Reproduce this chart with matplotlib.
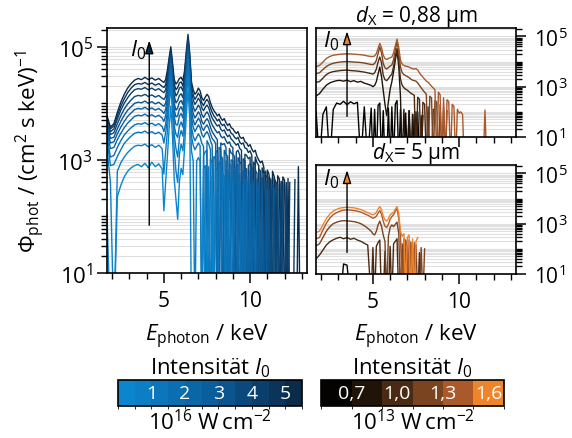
import numpy as np
import matplotlib.pyplot as plt
from matplotlib.colors import ListedColormap, BoundaryNorm, LinearSegmentedColormap
from matplotlib.cm import ScalarMappable
from matplotlib.ticker import LogLocator, MultipleLocator, FixedLocator, NullFormatter

plt.rcParams['font.family'] = ['Open Sans', 'DejaVu Sans']
plt.rcParams['font.size'] = 16
plt.rcParams['mathtext.fontset'] = 'custom'
plt.rcParams['mathtext.rm'] = 'Open Sans'
plt.rcParams['mathtext.it'] = 'Open Sans:italic'
plt.rcParams['mathtext.bf'] = 'Open Sans:bold'

# photon energy bins (keV)
energy = [1.7, 1.9, 2.1, 2.3, 2.5, 2.7, 2.9, 3.1, 3.3, 3.5, 3.7, 3.9, 4.1, 4.3, 4.5, 4.7, 4.9,
          5.0, 5.1, 5.2, 5.3, 5.4, 5.5, 5.6, 5.7, 5.8, 5.9,
          6.0, 6.1, 6.2, 6.3, 6.4, 6.5, 6.6, 6.7, 6.8, 6.9,
          7.0, 7.1, 7.2, 7.3, 7.4, 7.5, 7.6, 7.7, 7.8, 7.9,
          8.0, 8.1, 8.2, 8.3, 8.4, 8.5, 8.6, 8.7, 8.8, 8.9,
          9.0, 9.1, 9.2, 9.3, 9.4, 9.5, 9.6, 9.7, 9.8, 9.9,
          10.0, 10.1, 10.2, 10.3, 10.4, 10.5, 10.6, 10.7, 10.8, 10.9,
          11.0, 11.1, 11.2, 11.3, 11.4, 11.5, 11.6, 11.7, 11.8, 11.9,
          12.0, 12.1, 12.2, 12.3, 12.4, 12.5, 12.6, 12.7, 12.8, 12.9,
          13.0]

# log10 of photon flux, 0 = empty bin
# --- high intensity laser, 1..5.5 x 1e16 W/cm2 (lowest to highest)
lg_blue_1 = [2.05, 0, 0, 2.35, 2.55, 2.70, 2.80, 2.86, 2.90, 2.92, 2.88, 2.94, 2.86, 2.96, 2.88, 2.93, 2.84,
             2.10, 2.60, 3.05, 3.55, 3.95, 3.40, 2.65, 2.30, 1.95, 2.62,
             2.85, 2.74, 3.22, 3.80, 4.25, 3.72, 0, 0, 0, 0,
             0, 0, 0, 2.45, 0, 0, 0, 0, 0, 2.40]
lg_blue_2 = [3.20, 2.60, 0, 2.80, 2.95, 3.05, 3.13, 3.19, 3.24, 3.26, 3.25, 3.28, 3.23, 3.27, 3.22, 3.26, 3.20,
             2.75, 3.15, 3.50, 3.94, 4.30, 3.84, 3.18, 2.80, 2.60, 3.10,
             3.28, 3.16, 3.54, 4.06, 4.50, 4.00, 3.16, 2.98, 0, 2.98,
             3.04, 2.98, 0, 2.84, 2.90, 0, 2.88, 0, 2.72, 0,
             2.64]
lg_blue_3 = [3.35, 2.90, 2.92, 3.06, 3.18, 3.29, 3.36, 3.42, 3.47, 3.49, 3.48, 3.51, 3.47, 3.50, 3.46, 3.49, 3.44,
             3.30, 3.48, 3.72, 4.12, 4.46, 4.04, 3.44, 3.20, 3.05, 3.40,
             3.52, 3.42, 3.74, 4.24, 4.68, 4.20, 3.42, 3.26, 3.18, 3.24,
             3.30, 3.25, 0, 3.08, 3.14, 3.18, 0, 3.02, 2.94, 0,
             2.86, 2.82, 0, 0, 2.76, 2.72, 0, 2.66, 0, 0,
             2.60]
lg_blue_4 = [3.42, 3.05, 3.08, 3.22, 3.34, 3.44, 3.51, 3.57, 3.62, 3.64, 3.63, 3.66, 3.62, 3.65, 3.61, 3.64, 3.59,
             3.50, 3.63, 3.86, 4.24, 4.56, 4.16, 3.60, 3.45, 3.40, 3.60,
             3.67, 3.58, 3.88, 4.36, 4.78, 4.32, 3.58, 3.42, 3.34, 3.40,
             3.46, 3.41, 3.29, 3.24, 0, 3.34, 3.28, 3.18, 0, 3.06,
             3.01, 0, 2.96, 2.92, 0, 0, 2.84, 2.80, 0, 2.74,
             2.72, 0, 0, 2.66, 2.62, 0, 2.58, 0, 2.52]
lg_blue_5 = [3.50, 3.20, 3.22, 3.36, 3.47, 3.57, 3.65, 3.71, 3.77, 3.79, 3.78, 3.81, 3.77, 3.80, 3.76, 3.79, 3.74,
             3.68, 3.78, 4.00, 4.36, 4.66, 4.28, 3.76, 3.62, 3.62, 3.78,
             3.82, 3.74, 4.02, 4.48, 4.88, 4.44, 3.74, 3.58, 3.50, 3.56,
             3.62, 3.57, 3.45, 3.40, 3.46, 3.50, 3.44, 3.34, 3.26, 0,
             3.17, 3.13, 0, 3.07, 3.03, 0, 2.98, 0, 2.94, 2.88,
             0, 2.84, 2.80, 0, 2.76, 0, 0, 2.66, 2.62, 0,
             2.58, 0, 2.54, 0, 2.50]
lg_blue_6 = [3.55, 3.30, 3.32, 3.46, 3.58, 3.68, 3.77, 3.83, 3.89, 3.91, 3.90, 3.93, 3.89, 3.92, 3.88, 3.91, 3.86,
             3.82, 3.89, 4.10, 4.44, 4.72, 4.36, 3.88, 3.76, 3.78, 3.90,
             3.94, 3.86, 4.12, 4.56, 4.94, 4.52, 3.86, 3.70, 3.62, 3.68,
             3.74, 3.69, 3.57, 3.52, 3.58, 3.62, 3.56, 3.46, 3.38, 3.34,
             3.29, 0, 3.22, 3.19, 0, 3.17, 3.10, 3.06, 0, 3.00,
             2.98, 0, 2.90, 2.92, 0, 0, 2.80, 2.76, 0, 2.70,
             0, 2.66, 2.62, 0, 0, 2.56, 0, 2.50, 0, 0,
             2.46]
lg_blue_7 = [3.60, 3.38, 3.40, 3.55, 3.68, 3.79, 3.88, 3.94, 4.00, 4.02, 4.01, 4.04, 4.00, 4.03, 3.99, 4.02, 3.97,
             3.95, 4.00, 4.20, 4.52, 4.78, 4.44, 4.00, 3.88, 3.92, 4.02,
             4.05, 3.98, 4.22, 4.64, 5.00, 4.60, 3.97, 3.82, 3.74, 3.79,
             3.85, 3.80, 3.68, 3.63, 3.69, 3.73, 3.68, 3.58, 3.50, 3.45,
             3.40, 3.36, 0, 3.30, 3.27, 3.29, 3.22, 0, 3.20, 3.12,
             3.10, 3.06, 0, 3.04, 2.96, 2.92, 0, 2.86, 2.84, 0,
             2.80, 2.74, 0, 0, 2.66, 2.62, 0, 2.58, 0, 2.52,
             0, 2.50, 0, 0, 2.46, 2.44]
lg_blue_8 = [3.65, 3.45, 3.48, 3.64, 3.78, 3.90, 3.99, 4.06, 4.12, 4.14, 4.13, 4.16, 4.12, 4.15, 4.11, 4.14, 4.09,
             4.07, 4.12, 4.32, 4.60, 4.84, 4.52, 4.13, 4.01, 4.05, 4.14,
             4.17, 4.10, 4.32, 4.72, 5.06, 4.68, 4.09, 3.94, 3.86, 3.91,
             3.97, 3.92, 3.80, 3.75, 3.81, 3.85, 3.80, 3.70, 3.62, 3.57,
             3.52, 3.48, 3.50, 3.42, 3.39, 3.41, 3.34, 3.29, 3.32, 3.24,
             3.22, 0, 3.14, 3.17, 3.08, 0, 3.02, 2.98, 0, 2.90,
             2.93, 2.86, 0, 2.82, 2.76, 0, 2.70, 2.66, 0, 2.62,
             2.60, 0, 0, 2.56, 2.52, 0, 2.50, 0, 0, 2.48,
             2.50]
lg_blue_9 = [3.70, 3.50, 3.55, 3.72, 3.88, 4.00, 4.10, 4.18, 4.24, 4.26, 4.25, 4.28, 4.24, 4.27, 4.23, 4.26, 4.21,
             4.19, 4.24, 4.42, 4.68, 4.90, 4.60, 4.25, 4.13, 4.18, 4.27,
             4.29, 4.22, 4.42, 4.80, 5.12, 4.76, 4.21, 4.06, 3.98, 4.03,
             4.09, 4.04, 3.92, 3.87, 3.93, 3.97, 3.92, 3.82, 3.74, 3.69,
             3.64, 3.60, 3.62, 3.54, 3.51, 3.53, 3.46, 3.41, 3.44, 3.37,
             3.34, 3.30, 3.26, 3.29, 3.20, 3.17, 0, 3.10, 3.08, 3.02,
             3.05, 0, 2.96, 2.92, 0, 2.84, 2.80, 0, 2.72, 2.74,
             2.68, 0, 2.66, 0, 0, 2.60, 2.56, 0, 2.58, 0,
             0, 2.55, 0, 2.60]
lg_blue_10 = [3.74, 3.55, 3.60, 3.78, 3.95, 4.08, 4.19, 4.27, 4.33, 4.35, 4.34, 4.37, 4.33, 4.36, 4.32, 4.35, 4.30,
              4.28, 4.33, 4.50, 4.74, 4.95, 4.66, 4.34, 4.24, 4.28, 4.36,
              4.38, 4.31, 4.50, 4.86, 5.17, 4.82, 4.30, 4.15, 4.07, 4.12,
              4.18, 4.13, 4.01, 3.96, 4.03, 4.07, 4.02, 3.92, 3.84, 3.78,
              3.74, 3.69, 3.72, 3.64, 3.61, 3.63, 3.56, 3.52, 3.54, 3.47,
              3.45, 3.40, 3.37, 3.40, 3.31, 3.28, 3.30, 3.21, 3.20, 3.13,
              3.16, 3.08, 0, 3.05, 2.95, 2.90, 0, 2.86, 2.76, 2.80,
              0, 2.70, 2.64, 0, 2.68, 2.60, 0, 0, 2.62, 2.58,
              0, 2.60, 0, 0, 0, 0, 2.65]
lg_blue_11 = [3.78, 3.58, 3.64, 3.84, 4.02, 4.16, 4.27, 4.35, 4.41, 4.44, 4.42, 4.46, 4.42, 4.45, 4.41, 4.44, 4.39,
              4.37, 4.42, 4.58, 4.80, 5.00, 4.72, 4.42, 4.34, 4.38, 4.44,
              4.46, 4.40, 4.58, 4.92, 5.22, 4.88, 4.38, 4.24, 4.16, 4.20,
              4.27, 4.22, 4.10, 4.05, 4.11, 4.16, 4.12, 4.01, 3.93, 3.87,
              3.83, 3.78, 3.81, 3.74, 3.70, 3.73, 3.66, 3.61, 3.64, 3.57,
              3.55, 3.50, 3.47, 3.50, 3.41, 3.38, 3.40, 3.32, 3.30, 3.24,
              3.27, 3.19, 3.14, 3.17, 3.06, 3.00, 2.95, 2.98, 2.86, 0,
              2.82, 2.74, 0, 2.80, 2.70, 0, 2.72, 2.66, 0, 2.70,
              2.64, 0, 2.67, 0, 0, 0, 0, 0, 2.88, 0,
              0]

# --- d_X = 0.88 um, 0.6 .. 1.4 x 1e13 W/cm2
lg_thin_06 = [2.05, 0, 1.90, 2.20, 0, 2.10, 2.35, 2.30, 2.42, 2.28, 2.40, 2.32, 2.38, 0, 2.20, 0, 2.15,
              0, 2.10, 0, 2.25, 2.35, 0, 2.05, 0, 0, 2.15,
              0, 2.20, 0, 2.30, 2.45, 0, 2.10, 0, 0, 1.95,
              0, 2.05, 0, 0, 1.90, 0, 2.00, 0, 0, 1.85]
lg_thin_08 = [2.63, 2.72, 2.90, 3.06, 3.15, 3.20, 3.24, 3.25, 3.22, 3.26, 3.20, 3.24, 3.18, 3.21, 3.14, 3.10, 3.05,
              3.00, 3.05, 3.20, 3.50, 3.78, 3.40, 2.85, 2.30, 1.85, 2.40,
              2.90, 3.20, 3.60, 4.05, 4.45, 3.80, 2.60, 0, 2.10, 0,
              0, 2.05, 0, 1.90, 0, 2.00, 0, 0, 1.85, 0]
lg_thin_10 = [3.18, 3.20, 3.34, 3.48, 3.56, 3.60, 3.62, 3.64, 3.65, 3.66, 3.64, 3.63, 3.62, 3.60, 3.58, 3.55, 3.52,
              3.50, 3.55, 3.70, 3.98, 4.18, 3.95, 3.45, 3.28, 3.24, 3.32,
              3.42, 3.50, 3.80, 4.20, 4.52, 4.05, 3.30, 3.05, 2.96, 2.90,
              2.86, 2.80, 2.74, 2.70, 2.66, 0, 2.58, 2.50, 0, 2.38,
              2.30, 0, 2.20, 0, 0, 2.10]
lg_thin_12 = [3.52, 3.55, 3.68, 3.80, 3.88, 3.93, 3.96, 3.98, 3.99, 4.00, 3.99, 3.98, 3.97, 3.96, 3.94, 3.91, 3.88,
              3.88, 3.92, 4.05, 4.32, 4.58, 4.35, 3.92, 3.75, 3.70, 3.76,
              3.82, 3.86, 4.08, 4.45, 4.80, 4.40, 3.78, 3.55, 3.48, 3.44,
              3.40, 3.36, 3.30, 3.26, 3.24, 3.22, 3.15, 3.05, 2.96, 2.86,
              2.78, 2.70, 0, 2.62, 2.55, 0, 2.45, 2.38, 0, 2.28,
              0, 2.18, 0, 2.05]
lg_thin_14 = [3.80, 3.84, 3.98, 4.12, 4.20, 4.25, 4.27, 4.29, 4.30, 4.31, 4.30, 4.29, 4.28, 4.27, 4.25, 4.22, 4.20,
              4.20, 4.22, 4.32, 4.52, 4.72, 4.55, 4.25, 4.12, 4.08, 4.12,
              4.15, 4.18, 4.35, 4.62, 4.89, 4.55, 4.05, 3.90, 3.84, 3.82,
              3.80, 3.78, 3.74, 3.72, 3.70, 3.72, 3.66, 3.55, 3.46, 3.38,
              3.30, 3.22, 3.18, 3.10, 3.02, 2.95, 2.88, 0, 2.78, 2.68,
              0, 2.56, 0, 2.48, 2.40, 0, 2.30, 2.22, 0, 2.10,
              1.95, 2.00, 1.90, 0, 0, 0, 0, 0, 0, 0,
              0, 0, 0, 0, 0, 2.07, 0]

# --- d_X = 5 um, 0.6 .. 1.6 x 1e13 W/cm2
lg_thick_06 = [0, 0, 0, 0, 0, 0, 0, 0, 1.40, 1.35, 0, 0, 0, 0, 0, 0, 0]
lg_thick_10 = [1.60, 1.75, 1.95, 2.15, 2.28, 2.36, 2.42, 2.46, 2.40, 2.45, 2.38, 2.42, 2.35, 2.30, 2.22, 2.15, 0,
               2.05, 0, 2.10, 2.25, 2.35, 0, 0, 1.90, 0, 0,
               2.10, 0, 2.20, 2.30, 2.40, 0, 0, 1.95, 0, 0,
               2.00, 0, 0, 1.90, 0, 0, 0, 1.85, 0, 0]
lg_thick_12 = [2.12, 2.20, 2.45, 2.70, 2.88, 3.00, 3.06, 3.10, 3.12, 3.11, 3.10, 3.08, 3.05, 3.00, 2.92, 2.82, 2.70,
               2.60, 2.55, 2.70, 2.95, 3.10, 2.90, 2.55, 2.30, 0, 2.50,
               2.85, 2.95, 2.88, 2.98, 3.06, 2.60, 0, 2.20, 0, 2.35,
               2.10, 0, 2.25, 0, 2.00, 2.15, 0, 0, 2.05, 0,
               2.00]
lg_thick_14 = [2.40, 2.45, 2.75, 3.02, 3.22, 3.36, 3.44, 3.50, 3.54, 3.55, 3.54, 3.52, 3.50, 3.46, 3.40, 3.34, 3.26,
               3.22, 3.24, 3.30, 3.42, 3.52, 3.38, 3.10, 2.90, 2.85, 2.98,
               3.18, 3.28, 3.36, 3.50, 3.60, 3.20, 2.50, 0, 2.40, 2.30,
               0, 2.35, 2.20, 0, 2.25, 0]
lg_thick_16 = [2.65, 2.70, 2.95, 3.20, 3.38, 3.50, 3.57, 3.62, 3.64, 3.65, 3.64, 3.63, 3.60, 3.56, 3.50, 3.44, 3.38,
               3.36, 3.38, 3.45, 3.58, 3.68, 3.55, 3.30, 3.15, 3.10, 3.20,
               3.35, 3.40, 3.45, 3.58, 3.68, 3.40, 2.70, 2.50, 2.60, 0,
               2.45, 2.55, 0, 2.40, 0, 2.30, 2.45]

blue_series = [lg_blue_1, lg_blue_2, lg_blue_3, lg_blue_4, lg_blue_5, lg_blue_6,
               lg_blue_7, lg_blue_8, lg_blue_9, lg_blue_10, lg_blue_11]
thin_series = [(lg_thin_06, 0), (lg_thin_08, 1), (lg_thin_10, 2), (lg_thin_12, 3), (lg_thin_14, 4)]
thick_series = [(lg_thick_06, 0), (lg_thick_10, 2), (lg_thick_12, 3), (lg_thick_14, 4), (lg_thick_16, 5)]

blue_bounds = [0, 0.5, 1, 1.5, 2, 2.5, 3, 3.5, 4, 4.5, 5, 5.5]
blue_ticks = [1, 2, 3, 4, 5]
brown_bounds = [0.5, 0.7, 0.9, 1.1, 1.3, 1.5, 1.7]
brown_ticks = [0.7, 1.0, 1.3, 1.6]
brown_labels = ['0,7', '1,0', '1,3', '1,6']

blue_map = LinearSegmentedColormap.from_list('blues', ['#0b86ce', '#0b5e9e', '#0a2b4a'])
blue_colors = [blue_map(i / 10) for i in range(11)]
brown_colors = ['#040302', '#201409', '#4a2a12', '#7a4421', '#aa592b', '#f0842a']

W, H = 572, 439
fig = plt.figure(figsize=(W / 100, H / 100), dpi=100)


def box(x0, y0, x1, y1):
    return [x0 / W, 1 - y1 / H, (x1 - x0) / W, (y1 - y0) / H]


ax_l = fig.add_axes(box(107, 29, 307, 274))
ax_t = fig.add_axes(box(316, 29, 516, 138))
ax_b = fig.add_axes(box(316, 166, 516, 275))


def style(ax, right=False, xlabels=True):
    ax.set_yscale('log')
    ax.set_xlim(1.7, 13.3)
    ax.set_ylim(10, 2.15e5)
    ax.yaxis.set_major_locator(FixedLocator([1e1, 1e3, 1e5]))
    ax.yaxis.set_minor_locator(LogLocator(base=10, subs=np.arange(1, 10), numticks=20))
    ax.yaxis.set_minor_formatter(NullFormatter())
    ax.xaxis.set_major_locator(MultipleLocator(5))
    ax.xaxis.set_minor_locator(MultipleLocator(1))
    ax.grid(True, axis='y', which='both', color='#e0e0e0', lw=0.8)
    ax.set_axisbelow(True)
    ax.tick_params(which='major', length=7, width=1.1)
    ax.tick_params(which='minor', length=4.5, width=1.0)
    ax.tick_params(axis='x', pad=5, labelsize=15)
    if right:
        ax.yaxis.tick_right()
        ax.tick_params(axis='y', pad=6, labelsize=15)
    else:
        ax.tick_params(axis='y', pad=3, labelsize=16)
    if not xlabels:
        ax.tick_params(axis='x', labelbottom=False)
    for s in ax.spines.values():
        s.set_linewidth(1.2)


style(ax_l)
style(ax_t, right=True, xlabels=False)
style(ax_b, right=True)

# left: spectra for the high intensities, lightest drawn last
for k in range(10, -1, -1):
    v = blue_series[k]
    ax_l.plot(energy[:len(v)], 10.0 ** np.array(v), color=blue_colors[k], lw=1.0)

for v, c in thin_series:
    ax_t.plot(energy[:len(v)], 10.0 ** np.array(v), color=brown_colors[c], lw=1.0)
for v, c in thick_series:
    ax_b.plot(energy[:len(v)], 10.0 ** np.array(v), color=brown_colors[c], lw=1.0)


# intensity arrows
def arrow(ax, x, y0, y1, head):
    ax.annotate('', xy=(x, y1), xytext=(x, y0),
                arrowprops=dict(arrowstyle='-|>,head_length=0.5,head_width=0.16',
                                lw=1.0, edgecolor='black', facecolor=head,
                                shrinkA=0, shrinkB=0))


arrow(ax_l, 4.15, 70, 1.3e5, blue_colors[10])
ax_l.text(3.5, 9.0e4, '$I_0$', ha='center', va='center')
arrow(ax_t, 3.5, 66, 1.6e5, brown_colors[5])
ax_t.text(2.55, 7.0e4, '$I_0$', ha='center', va='center')
arrow(ax_b, 3.5, 72, 1.35e5, brown_colors[5])
ax_b.text(2.55, 6.3e4, '$I_0$', ha='center', va='center')

ax_t.set_title(r'$d_\mathrm{X}$ = 0,88 µm', pad=3, fontsize=15)
ax_b.set_title(r'$d_\mathrm{X}$= 5 µm', pad=4, fontsize=15)

ax_l.set_ylabel(r'$\Phi_\mathrm{phot}$ / (cm$^2$ s keV)$^{-1}$')
ax_l.yaxis.set_label_coords(-0.3, 0.5)
for ax, (top, bottom) in ((ax_l, (29, 274)), (ax_b, (166, 275))):
    ax.set_xlabel(r'$E_\mathrm{photon}$ / keV')
    ax.xaxis.set_label_coords(0.5, (bottom - 337) / (bottom - top))
    ax.xaxis.label.set_va('center')


# discrete intensity colour bars
def colorbar(x0, x1, colors, bounds, ticks, labels, unit):
    cax = fig.add_axes(box(x0, 381, x1, 407))
    cmap = ListedColormap(colors)
    norm = BoundaryNorm(bounds, cmap.N)
    cb = fig.colorbar(ScalarMappable(norm=norm, cmap=cmap), cax=cax, orientation='horizontal')
    cb.set_ticks([])
    cb.outline.set_linewidth(1.2)
    for t, lab in zip(ticks, labels):
        cax.text(t, 0.5, lab, color='white', ha='center', va='center', fontsize=14,
                 transform=cax.get_xaxis_transform())
    xc = (x0 + x1) / 2 / W
    fig.text(xc, 1 - 368 / H, r'Intensität $I_0$', ha='center', va='center')
    fig.text(xc, 1 - 423 / H, unit, ha='center', va='center')


colorbar(118, 302, blue_colors, blue_bounds, blue_ticks, [str(t) for t in blue_ticks],
         r'10$^{16}$ W$\,$cm$^{-2}$')
colorbar(321, 504, brown_colors, brown_bounds, brown_ticks, brown_labels,
         r'10$^{13}$ W$\,$cm$^{-2}$')

fig.savefig('out.png', dpi=100)
